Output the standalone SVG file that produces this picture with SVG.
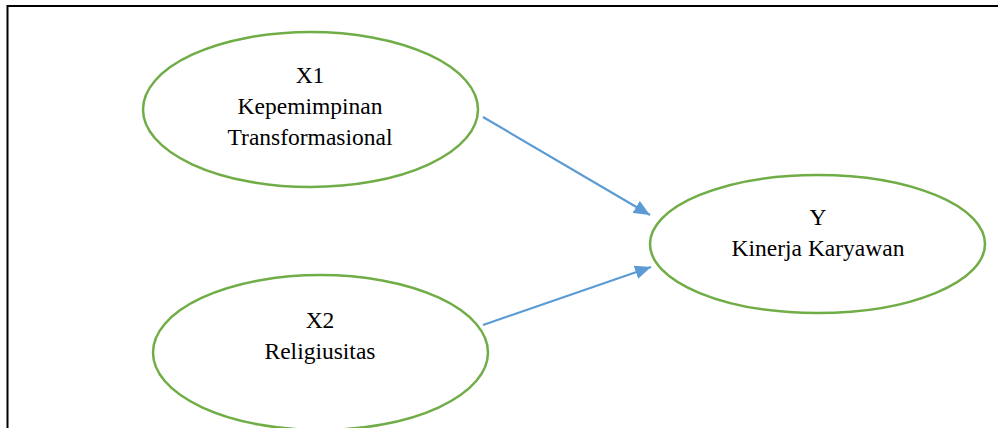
<svg xmlns="http://www.w3.org/2000/svg" width="998" height="428" viewBox="0 0 998 428">
<style>
.node ellipse{fill:#ffffff;stroke:#70AD47;stroke-width:2.5}
.node text{font-family:"Liberation Serif","Times New Roman",serif;font-size:23.5px;fill:#000;text-anchor:middle}
.edge{stroke:#5B9BD5;stroke-width:2.2;fill:none;marker-end:url(#ah)}
</style>
<defs>
<marker id="ah" markerUnits="userSpaceOnUse" markerWidth="18" markerHeight="14" refX="16" refY="7" orient="auto">
<path d="M0,0 L16,7 L0,14 Z" fill="#5B9BD5"/>
</marker>
</defs>
<rect x="0" y="0" width="998" height="428" fill="#ffffff"/>
<path d="M7.5,430 V6 H1000" fill="none" stroke="#000" stroke-width="2"/>
<g id="connectors">
<line class="edge" x1="483" y1="117" x2="650" y2="215"/>
<line class="edge" x1="483" y1="325" x2="651" y2="267"/>
</g>
<g id="X1" class="node">
<ellipse cx="310.5" cy="109.5" rx="167.5" ry="77.5"/>
<text x="310" y="83">X1</text>
<text x="310" y="114">Kepemimpinan</text>
<text x="310" y="145">Transformasional</text>
</g>
<g id="X2" class="node">
<ellipse cx="320.5" cy="352.5" rx="167.5" ry="77.5"/>
<text x="320" y="328">X2</text>
<text x="320" y="359">Religiusitas</text>
</g>
<g id="Y" class="node">
<ellipse cx="817.5" cy="244" rx="167.5" ry="69"/>
<text x="818" y="225">Y</text>
<text x="818" y="256">Kinerja Karyawan</text>
</g>
</svg>
